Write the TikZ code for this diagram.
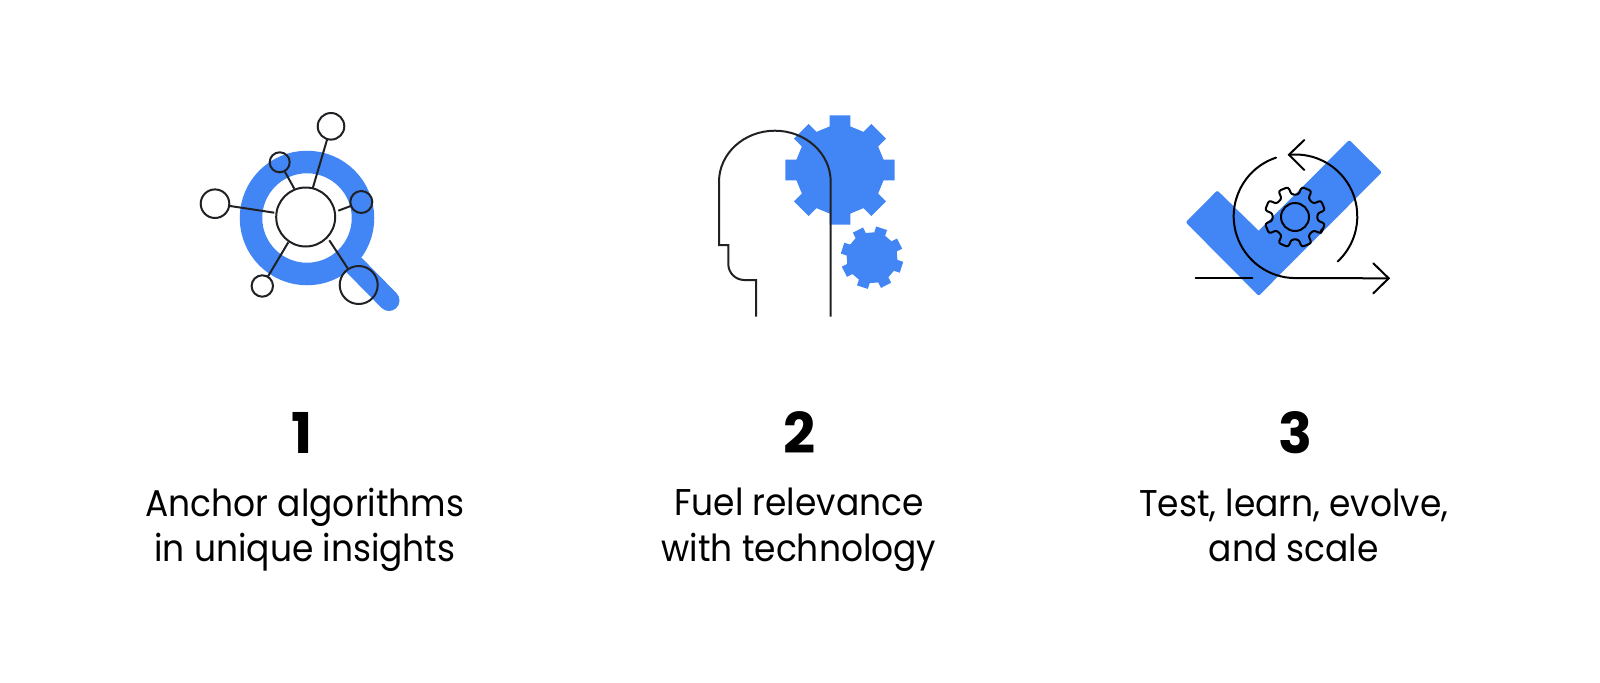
\documentclass[tikz,border=0pt]{standalone}
\usepackage{fontspec}
\setmainfont[FakeStretch=0.925]{Poppins}
\newfontfamily\numfont[FakeStretch=1.0]{Poppins}
\definecolor{gblue}{HTML}{4285F4}
\definecolor{ink}{HTML}{202124}
\newcommand{\bodytext}{\fontsize{53pt}{64.8pt}\selectfont}
\newcommand{\numtext}{\fontsize{80pt}{80pt}\numfont\bfseries}
\newcommand{\gearpath}[6]{% cx cy outer body halfwidth startangle
  ({#1+(#3)*cos(#6-asin(#5/#3))},{#2-(#3)*sin(#6-asin(#5/#3))})
  \foreach \ga [evaluate=\ga as \gb using {\ga+#6}] in {0,45,...,315} {
    -- ({#1+(#3)*cos(\gb+asin(#5/#3))},{#2-(#3)*sin(\gb+asin(#5/#3))})
    -- ({#1+(#4)*cos(\gb+asin(#5/#4))},{#2-(#4)*sin(\gb+asin(#5/#4))})
    -- ({#1+(#4)*cos(\gb+45-asin(#5/#4))},{#2-(#4)*sin(\gb+45-asin(#5/#4))})
    -- ({#1+(#3)*cos(\gb+45-asin(#5/#3))},{#2-(#3)*sin(\gb+45-asin(#5/#3))})
  }}
\tikzset{
  px/.style={x=0.05cm,y=-0.05cm},
  thin ink/.style={draw=ink,line width=0.1cm},
  dot/.style={circle,draw=ink,line width=0.1cm,inner sep=0pt,outer sep=0pt},
  lbl/.style={align=center,text=black,font=\bodytext,inner sep=0pt},
  num/.style={text=black,font=\numtext,inner sep=0pt,anchor=base},
  chev/.style={draw=black,line width=0.1cm,line cap=round,line join=miter},
}
\begin{document}
\begin{tikzpicture}[px]
\useasboundingbox (0,0) rectangle (1600,682);
% Icon 1
\draw[gblue,line width=1.125cm] (307,218) circle (56);
\coordinate (hs) at (355,266);
\coordinate (he) at (389,300.5);
\draw[gblue,line width=1.05cm,line cap=round] (hs) -- (he);
\node[dot,fill=white,minimum size=2.95cm] (c0) at (305.7,217) {};
\node[dot,fill=white,minimum size=1.33cm] (c1) at (331,126.3) {};
\node[dot,minimum size=1.0cm] (c2) at (279.7,162.3) {};
\node[dot,fill=white,minimum size=1.43cm] (c3) at (215,203.7) {};
\node[dot,minimum size=1.1cm] (c4) at (361.3,202) {};
\node[dot,fill=white,minimum size=1.07cm] (c5) at (262.3,286) {};
\node[dot,minimum size=1.9cm] (c6) at (358.7,285) {};
\coordinate (a1) at (312.7,188.3);
\coordinate (a2) at (294.3,188.7);
\coordinate (a3) at (274.3,212.7);
\coordinate (a4) at (338.3,210.7);
\coordinate (a5) at (288.3,242.3);
\coordinate (a6) at (329.3,240.3);
\draw[thin ink] (a1) -- (c1);
\draw[thin ink] (a2) -- (c2);
\draw[thin ink] (a3) -- (c3);
\draw[thin ink] (a4) -- (c4);
\draw[thin ink] (a5) -- (c5);
\draw[thin ink] (a6) -- (c6);
% Icon 2
\fill[gblue] \gearpath{840}{170}{55.6}{44.8}{10.3}{0} -- cycle;
\fill[gblue] \gearpath{872}{257.7}{31.5}{25.5}{5.7}{27} -- cycle;
\draw[thin ink,line join=miter] (756,316.7) -- (756,280) -- (744.3,280) arc[start angle=90,end angle=180,radius=16] -- (728.3,245) -- (719,245) -- (719,181.7)
  arc[start angle=180,end angle=360,x radius=55.85,y radius=51] -- (830.7,316.7);
% Icon 3
\fill[gblue,draw=gblue,line width=0.15cm,line join=round]
  (1217.3,192.5) -- (1187.8,222.3) -- (1258.7,293.7) -- (1379.7,172.3) -- (1349.3,142) -- (1258.7,232.8) -- cycle;
\draw[chev,rounded corners=0.12cm] \gearpath{1295}{217}{30.8}{22.7}{5.3}{-22.5} -- cycle;
\node[dot,draw=black,minimum size=1.4cm] (g0) at (1295,217) {};
\coordinate (ac) at (1295.5,216.3);
\coordinate (tipb) at (1388.7,278.3);
\draw[chev] ([shift={(-108.4:61.8)}]ac) arc[start angle=-108.4,end angle=-270,radius=61.8] -- (tipb);
\draw[chev] ([shift={(47:61.8)}]ac) arc[start angle=47,end angle=-96,radius=61.8];
\draw[chev] (1304.3,140) -- (1289,154.7) -- (1304.3,170);
\draw[chev] (1373.3,263.3) -- (tipb) -- (1373.3,293.3);
\draw[chev] (1195.7,278.3) -- (1252.3,278.3);
% Text
\node[num] (n1) at (301.7,453) {1};
\node[num] (n2) at (800,453) {2};
\node[num] (n3) at (1295.7,453) {3};
\node[lbl] (t1) at (305,530) {Anchor algorithms\\in unique insights};
\node[lbl] (t2) at (799,530) {Fuel relevance\\with technology};
\node[lbl] (t3) at (1293.7,525.4) {Test, learn, evolve,\\and scale};
\end{tikzpicture}
\end{document}
